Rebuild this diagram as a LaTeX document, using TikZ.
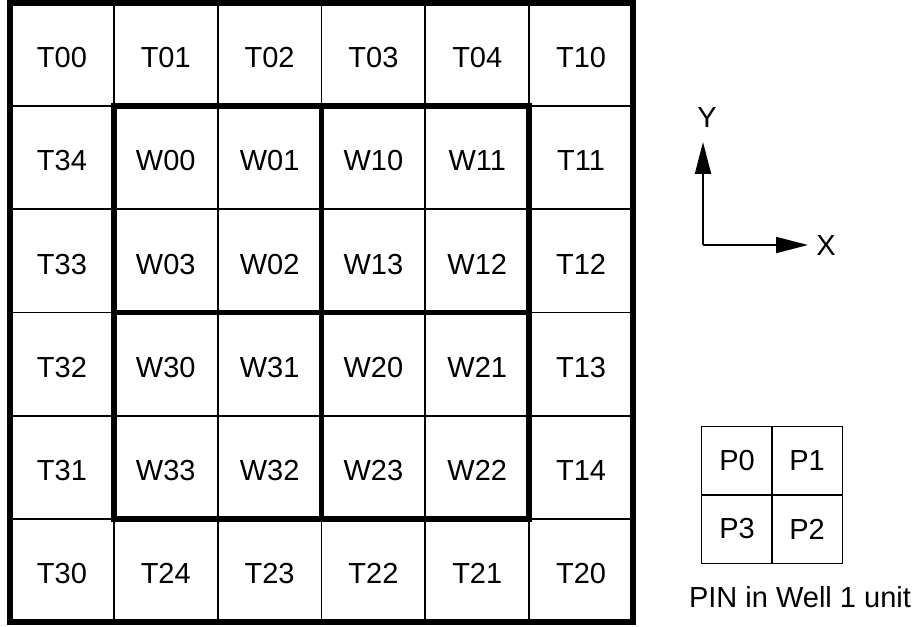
\documentclass[tikz,border=0pt]{standalone}
\usepackage{fontspec}
\setmainfont{Liberation Sans}
\usetikzlibrary{arrows.meta}

\tikzset{
  lbl/.style={font=\fontsize{16.5}{19}\selectfont},
  cell/.style={lbl, draw, line width=1.1pt, minimum width=2.0767cm, minimum height=2.0633cm, inner sep=0pt, outer sep=0pt, text height=15pt, text depth=0pt},
  pincell/.style={lbl, draw, line width=1.1pt, minimum width=1.42cm, minimum height=1.38cm, inner sep=0pt, outer sep=0pt},
  wall/.style={line width=3.3pt},
  axis/.style={line width=1.1pt, -{Triangle[length=0.64cm, width=0.32cm]}},
}

\begin{document}
\begin{tikzpicture}[x=0.02cm, y=-0.02cm]
    \useasboundingbox (0,0) rectangle (920,626);

        % Tiles and wells, row by row
        \foreach \l [count=\i from 0] in {T00,T01,T02,T03,T04,T10,
                                          T34,W00,W01,W10,W11,T11,
                                          T33,W03,W02,W13,W12,T12,
                                          T32,W30,W31,W20,W21,T13,
                                          T31,W33,W32,W23,W22,T14,
                                          T30,T24,T23,T22,T21,T20}{
            \pgfmathtruncatemacro{\c}{mod(\i,6)}
            \pgfmathtruncatemacro{\r}{div(\i,6)}
            \node[cell] (\l) at ({10+103.83*(\c+0.5)},{3+103.17*(\r+0.5)}) {\l};
        }

        % Thick borders
        \draw[wall] (T00.north west) rectangle (T20.south east);
        \draw[wall] (W00.north west) rectangle (W22.south east);
        \draw[wall] (W01.north east) -- (W32.south east);
        \draw[wall] (W03.south west) -- (W12.south east);

        % Axes
        \coordinate (origin) at (703,245);
        \coordinate (ytip) at (703,142);
        \coordinate (xtip) at (808,245);
        \draw[axis] (origin) -- (ytip);
        \draw[axis] (origin) -- (xtip);
        \node[lbl] (ylab) at (707,118) {Y};
        \node[lbl] (xlab) at (826,246) {X};

        % PIN in well
        \foreach \l/\x/\y in {P0/737/461, P1/807/461, P3/737/529, P2/807/529}
            \node[pincell] (\l) at (\x,\y) {\l};
        \node[lbl] (pincap) at (800,597) {PIN in Well 1 unit};

\end{tikzpicture}
\end{document}
